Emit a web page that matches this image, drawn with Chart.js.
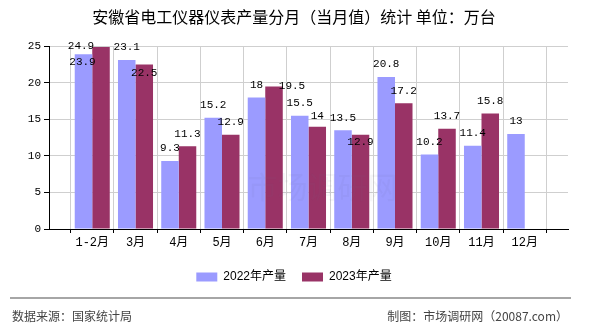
<!DOCTYPE html>
<html>
<head>
<meta charset="utf-8">
<script src="https://cdn.jsdelivr.net/npm/chart.js@4/dist/chart.umd.min.js"></script>
<style>
  html, body { margin: 0; padding: 0; background: #fff; }
  #chart { display: block; }
</style>
</head>
<body>
<canvas id="chart" width="590" height="330"></canvas>
<script>
/* DATA */
const months = ['1-2月', '3月', '4月', '5月', '6月', '7月', '8月', '9月', '10月', '11月', '12月'];
const output2022 = [23.9, 23.1, 9.3, 15.2, 18, 15.5, 13.5, 20.8, 10.2, 11.4, 13];
const output2023 = [24.9, 22.5, 11.3, 12.9, 19.5, 14, 12.9, 17.2, 13.7, 15.8, null];
const yTicks = [0, 5, 10, 15, 20, 25];

/* COLORS */
const blue = '#9b9bff';
const plum = '#993366';
const gridGray = '#cfcfcf';
const monoFont = '"Liberation Mono", "Noto Sans CJK SC", monospace';
const cjkFont = '"Noto Sans CJK SC", sans-serif';

// empty slot on each side so the axis runs one step past the first and last month
const pad = (arr) => [null, ...arr, null];
const labels = ['', ...months, ''];

/* PLUGIN: VALUE LABELS */
// a few labels are shifted off the bar top where they would collide
const labelNudge = {
  '0:1': { dx: -1, dy: 20 },
  '1:1': { dx: -20, dy: 12 },
  '1:2': { dx: 0, dy: 21 },
  '1:5': { dx: 18, dy: 12 },
  '1:6': { dx: 0, dy: 2 },
  '1:7': { dx: 0, dy: 20 },
};

const valueLabels = {
  id: 'valueLabels',
  afterDatasetsDraw(chart) {
    const ctx = chart.ctx;
    ctx.save();
    ctx.font = '11px ' + monoFont;
    ctx.fillStyle = '#000';
    ctx.textAlign = 'center';
    ctx.textBaseline = 'middle';
    chart.data.datasets.forEach((ds, di) => {
      chart.getDatasetMeta(di).data.forEach((bar, i) => {
        const v = ds.data[i];
        if (v === null || v === undefined) return;
        const n = labelNudge[di + ':' + i] || { dx: 0, dy: 0 };
        ctx.fillText(String(v), bar.x + n.dx, bar.y - 12.5 + n.dy);
      });
    });
    ctx.restore();
  },
};

/* PLUGIN: WATERMARK + FOOTER */
const decorations = {
  id: 'decorations',
  afterDatasetsDraw(chart) {
    const ctx = chart.ctx;
    const a = chart.chartArea;
    ctx.save();
    ctx.font = '30px ' + cjkFont;
    ctx.fillStyle = 'rgba(110, 100, 130, 0.06)';
    ctx.textAlign = 'center';
    ctx.textBaseline = 'middle';
    ctx.fillText('市场调研网', (a.left + a.right) / 2 + 14, a.top + 140);
    ctx.restore();
  },
  afterDraw(chart) {
    const ctx = chart.ctx;
    ctx.save();
    ctx.strokeStyle = '#888';
    ctx.lineWidth = 1.5;
    ctx.beginPath();
    ctx.moveTo(10, 298);
    ctx.lineTo(571, 298);
    ctx.stroke();

    ctx.font = '12px ' + cjkFont;
    ctx.fillStyle = '#444';
    ctx.textBaseline = 'middle';
    ctx.textAlign = 'left';
    ctx.fillText('数据来源：国家统计局', 12, 316);
    ctx.textAlign = 'right';
    ctx.fillText('制图：市场调研网（20087.com）', 568, 316);
    ctx.restore();
  },
};

/* CHART */
new Chart(document.getElementById('chart'), {
  type: 'bar',
  data: {
    labels: labels,
    datasets: [
      {
        label: '2022年产量',
        data: pad(output2022),
        backgroundColor: blue,
        borderWidth: 0,
        categoryPercentage: 0.81,
        barPercentage: 1.0,
      },
      {
        label: '2023年产量',
        data: pad(output2023),
        backgroundColor: plum,
        borderWidth: 0,
        categoryPercentage: 0.81,
        barPercentage: 1.0,
      },
    ],
  },
  options: {
    responsive: false,
    animation: false,
    devicePixelRatio: 1,
    layout: { padding: { left: 20, right: 22, top: 0, bottom: 37 } },
    scales: {
      x: {
        offset: false,
        afterFit(scale) { scale.height = 26; },
        grid: { color: gridGray, tickColor: '#000', tickLength: 4 },
        border: { color: '#000', width: 1 },
        ticks: {
          color: '#000',
          font: { family: monoFont, size: 12 },
          padding: 3,
          autoSkip: false,
          maxRotation: 0,
        },
      },
      y: {
        min: yTicks[0],
        max: yTicks[yTicks.length - 1],
        afterFit(scale) { scale.width = 29; },
        afterBuildTicks(scale) { scale.ticks = yTicks.map((v) => ({ value: v })); },
        grid: { color: gridGray, tickColor: '#000', tickLength: 5 },
        border: { color: '#000', width: 1 },
        ticks: {
          color: '#000',
          font: { family: monoFont, size: 11 },
          padding: 3,
        },
      },
    },
    plugins: {
      title: {
        display: true,
        text: '安徽省电工仪器仪表产量分月（当月值）统计 单位：万台',
        color: '#000',
        font: { family: cjkFont, size: 16, weight: 'normal' },
        padding: { top: 7, bottom: 20 },
      },
      legend: {
        position: 'bottom',
        labels: {
          color: '#000',
          boxWidth: 21,
          boxHeight: 9,
          padding: 16,
          font: { family: '"Liberation Sans", "Noto Sans CJK SC", sans-serif', size: 12 },
        },
      },
      tooltip: { enabled: false },
    },
  },
  plugins: [valueLabels, decorations],
});
</script>
</body>
</html>
